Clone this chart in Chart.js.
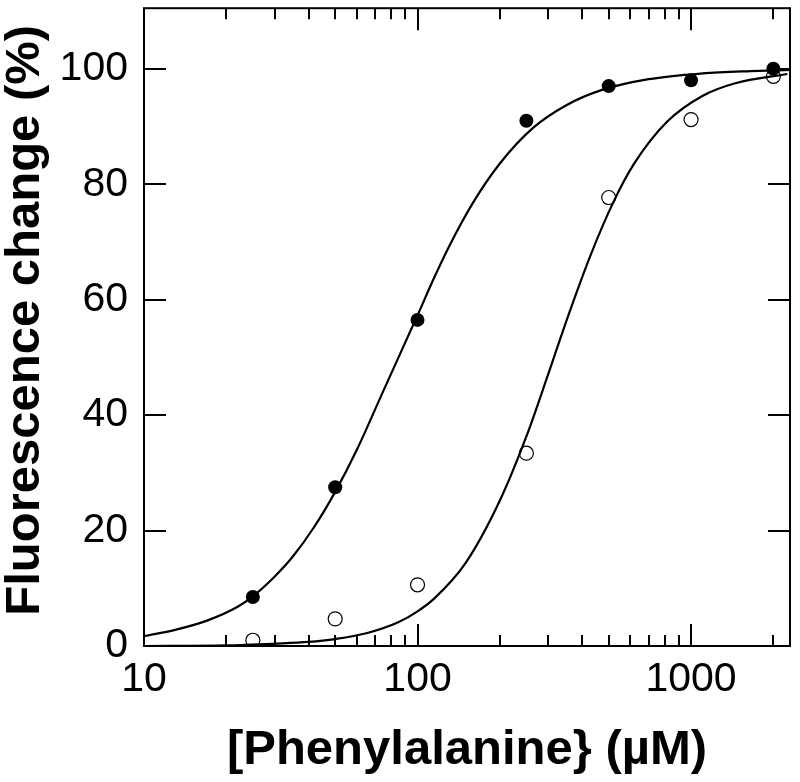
<!DOCTYPE html>
<html>
<head>
<meta charset="utf-8">
<script src="https://cdn.jsdelivr.net/npm/chart.js@4.4.0/dist/chart.umd.min.js"></script>
<style>
  html, body { margin: 0; padding: 0; background: #fff; }
</style>
</head>
<body>
<canvas id="fluo-chart" width="800" height="782"></canvas>
<script>
// measured points: [Phe] in uM, fluorescence change in %
var concFilled = [25, 50, 100, 250, 500, 1000, 2000];
var fluoFilled = [8.5, 27.5, 56.5, 91, 97, 98, 100];
var concOpen = [25, 50, 100, 250, 500, 1000, 2000];
var fluoOpen = [1.0, 4.7, 10.6, 33.4, 77.7, 91.2, 98.7];

// fitted curves
var fitFilledX = [10, 13, 17, 22, 25, 30, 35, 42, 50, 60, 75, 100, 115, 130, 160, 200, 265, 350, 470, 700, 1100, 1650, 2300];
var fitFilledY = [1.7, 2.8, 4.4, 6.8, 8.6, 12.0, 15.5, 20.7, 26.7, 34.0, 44.2, 57.3, 63.8, 69.1, 76.9, 83.6, 89.8, 93.7, 96.3, 98.2, 99.2, 99.6, 99.8];
var fitOpenX = [10, 20, 30, 40, 50, 65, 85, 100, 115, 150, 200, 250, 300, 350, 430, 520, 620, 820, 1100, 1450, 2250];
var fitOpenY = [0, 0.1, 0.4, 0.7, 1.2, 2.2, 4.1, 6.0, 8.2, 14.4, 25.2, 36.3, 47, 56.3, 67.8, 76.9, 83.6, 90.9, 95.3, 97.5, 99.1];

var xTickLabels = [10, 100, 1000];
var yTickLabels = [0, 20, 40, 60, 80, 100];

function toXY(xs, ys) {
    var out = [];
    for (var i = 0; i < xs.length; i++) {
        out.push({x: xs[i], y: ys[i]});
    }
    return out;
}

function isDecade(v) {
    var l = Math.log10(v);
    return Math.abs(l - Math.round(l)) < 1e-9;
}

function isWholeStep(v) {
    var p = Math.pow(10, Math.floor(Math.log10(v) + 1e-9));
    var s = v / p;
    return Math.abs(s - Math.round(s)) < 1e-9;
}

// box round the plot with inward ticks on all four sides
var frameTicks = {
    id: 'frameTicks',
    afterDatasetsDraw: function (chart) {
        var ctx = chart.ctx;
        var a = chart.chartArea;
        var xs = chart.scales.x;
        var ys = chart.scales.y;
        ctx.save();
        ctx.strokeStyle = '#000';
        ctx.lineWidth = 2;
        ctx.beginPath();
        xs.ticks.forEach(function (t) {
            if (!isWholeStep(t.value)) return;
            var px = Math.round(xs.getPixelForValue(t.value));
            var len = isDecade(t.value) ? 22 : 11;
            ctx.moveTo(px, a.bottom);
            ctx.lineTo(px, a.bottom - len);
            ctx.moveTo(px, a.top);
            ctx.lineTo(px, a.top + len);
        });
        ys.ticks.forEach(function (t) {
            if (yTickLabels.indexOf(t.value) < 0) return;
            var py = Math.round(ys.getPixelForValue(t.value));
            ctx.moveTo(a.left, py);
            ctx.lineTo(a.left + 22, py);
            ctx.moveTo(a.right, py);
            ctx.lineTo(a.right - 22, py);
        });
        ctx.stroke();
        ctx.strokeRect(a.left, a.top, a.right - a.left, a.bottom - a.top);
        ctx.restore();
    }
};

Chart.defaults.color = '#000';
Chart.defaults.font.family = "'Liberation Sans', Arial, Helvetica, sans-serif";

var config = {
    type: 'scatter',
    data: {
        datasets: [
            {
                data: toXY(concFilled, fluoFilled),
                pointRadius: 7,
                backgroundColor: '#000',
                borderColor: '#000',
                borderWidth: 0
            }, {
                data: toXY(concOpen, fluoOpen),
                pointRadius: 7,
                backgroundColor: 'rgba(255,255,255,0)',
                borderColor: '#000',
                borderWidth: 1.2
            }, {
                data: toXY(fitFilledX, fitFilledY),
                showLine: true,
                pointRadius: 0,
                borderColor: '#000',
                borderWidth: 2.2,
                cubicInterpolationMode: 'monotone'
            }, {
                data: toXY(fitOpenX, fitOpenY),
                showLine: true,
                pointRadius: 0,
                borderColor: '#000',
                borderWidth: 2.2,
                cubicInterpolationMode: 'monotone'
            }
        ]
    },
    options: {
        responsive: false,
        animation: false,
        layout: {
            padding: {top: 8, right: 10, left: 0, bottom: 0}
        },
        plugins: {
            legend: {display: false},
            tooltip: {enabled: false}
        },
        scales: {
            x: {
                type: 'logarithmic',
                min: 10,
                max: 2300,
                grid: {display: false, drawTicks: false},
                border: {display: false},
                ticks: {
                    autoSkip: false,
                    maxRotation: 0,
                    padding: 9,
                    font: {size: 41},
                    callback: function (v) {
                        return xTickLabels.indexOf(v) >= 0 ? String(v) : '';
                    }
                },
                title: {
                    display: true,
                    text: '[Phenylalanine} (\u00b5M)',
                    font: {size: 49, weight: 'bold', lineHeight: 1},
                    padding: {top: 0, bottom: 7.5}
                },
                afterFit: function (scale) {
                    scale.height = 136;
                    scale.paddingLeft = 0;
                    scale.paddingRight = 0;
                }
            },
            y: {
                min: 0,
                max: 110.5,
                grid: {display: false, drawTicks: false},
                border: {display: false},
                ticks: {
                    stepSize: 20,
                    includeBounds: false,
                    padding: 16,
                    font: {size: 41},
                    callback: function (v) {
                        return yTickLabels.indexOf(v) >= 0 ? String(v) : '';
                    }
                },
                title: {
                    display: true,
                    text: ' Fluorescence change (%)',
                    font: {size: 49, weight: 'bold', lineHeight: 1},
                    padding: {top: 0.5, bottom: 0}
                },
                afterFit: function (scale) {
                    scale.width = 144;
                    scale.paddingTop = 0;
                    scale.paddingBottom = 0;
                }
            }
        }
    },
    plugins: [frameTicks]
};

var myChart = new Chart(document.getElementById('fluo-chart').getContext('2d'), config);
</script>
</body>
</html>
